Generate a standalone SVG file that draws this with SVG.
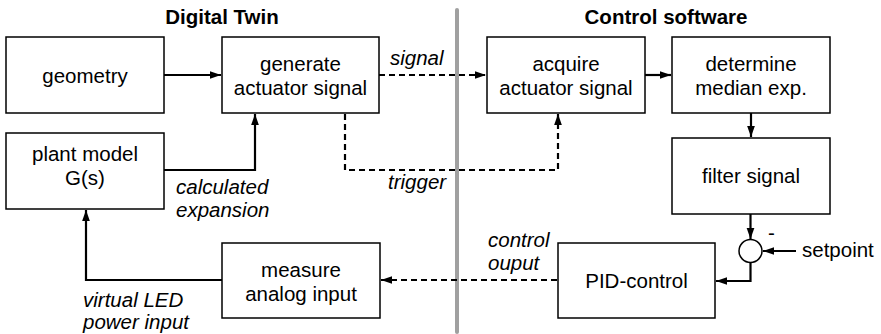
<svg xmlns="http://www.w3.org/2000/svg" width="881" height="334" viewBox="0 0 881 334">
  <defs>
    <marker id="arrow" viewBox="0 0 10 10" refX="10" refY="5" markerWidth="5" markerHeight="5" markerUnits="strokeWidth" orient="auto">
      <path d="M0,1.5 L10,5 L0,8.5 z" fill="#000"/>
    </marker>
  </defs>
  <style>
    .box { fill: #fff; stroke: #000; stroke-width: 1.5; }
    .lbl { font-family: "Liberation Sans", Arial, sans-serif; font-size: 20.5px; fill: #000; text-anchor: middle; }
    .it { font-family: "Liberation Sans", Arial, sans-serif; font-size: 20.5px; font-style: italic; fill: #000; }
    .title { font-family: "Liberation Sans", Arial, sans-serif; font-size: 20.5px; font-weight: bold; fill: #000; text-anchor: middle; }
    .solid { fill: none; stroke: #000; stroke-width: 2.2; marker-end: url(#arrow); }
    .dash { fill: none; stroke: #000; stroke-width: 2.2; stroke-dasharray: 6 4; marker-end: url(#arrow); }
  </style>
  <rect width="881" height="334" fill="#fff"/>

  <!-- separator between the two domains -->
  <line x1="457" y1="10" x2="457" y2="332" stroke="#a0a0a0" stroke-width="4" stroke-linecap="round"/>

  <text class="title" x="222" y="24">Digital Twin</text>
  <text class="title" x="666" y="24">Control software</text>

  <g id="connectors">
    <path class="solid" d="M164,75 L221,75"/>
    <path class="solid" d="M164,170 L255,170 L255,114"/>
    <path class="solid" d="M222,280 L86,280 L86,210"/>
    <path class="dash" d="M379,75 L486,75"/>
    <path class="dash" d="M345,114 L345,170 L558,170 L558,114"/>
    <path class="dash" d="M557,280 L381,280"/>
    <path class="solid" d="M645,75 L671,75"/>
    <path class="solid" d="M751,113 L751,137"/>
    <path class="solid" d="M750.5,214 L750.5,239"/>
    <path class="solid" d="M796,251 L763,251"/>
    <path class="solid" d="M750.5,263 L750.5,281 L716,281"/>
  </g>

  <g id="geometry">
    <rect class="box" x="6" y="37" width="158" height="76"/>
    <text class="lbl" x="85" y="82.5">geometry</text>
  </g>
  <g id="generate">
    <rect class="box" x="222" y="37" width="157" height="76"/>
    <text class="lbl" x="300.5" y="70.5">generate</text>
    <text class="lbl" x="300.5" y="94.5">actuator signal</text>
  </g>
  <g id="plant">
    <rect class="box" x="6" y="133" width="158" height="76"/>
    <text class="lbl" x="85" y="161">plant model</text>
    <text class="lbl" x="85" y="185">G(s)</text>
  </g>
  <g id="measure">
    <rect class="box" x="222" y="243" width="158" height="75"/>
    <text class="lbl" x="301" y="276.5">measure</text>
    <text class="lbl" x="301" y="300.5">analog input</text>
  </g>
  <g id="acquire">
    <rect class="box" x="487" y="37" width="158" height="76"/>
    <text class="lbl" x="566" y="70.5">acquire</text>
    <text class="lbl" x="566" y="94.5">actuator signal</text>
  </g>
  <g id="determine">
    <rect class="box" x="672" y="37" width="158" height="76"/>
    <text class="lbl" x="751" y="70.5">determine</text>
    <text class="lbl" x="751" y="94.5">median exp.</text>
  </g>
  <g id="filter">
    <rect class="box" x="672" y="138" width="158" height="76"/>
    <text class="lbl" x="751" y="183">filter signal</text>
  </g>
  <g id="pid">
    <rect class="box" x="558" y="243" width="157" height="75"/>
    <text class="lbl" x="636.5" y="287.5">PID-control</text>
  </g>
  <g id="sum">
    <circle cx="750.5" cy="251" r="11.5" fill="#fff" stroke="#000" stroke-width="1.5"/>
    <text class="it" x="768" y="240" style="font-style:normal">-</text>
  </g>

  <g id="labels">
    <text class="it" x="390" y="65">signal</text>
    <text class="it" x="388" y="189">trigger</text>
    <text class="it" x="176" y="194">calculated</text>
    <text class="it" x="176" y="217">expansion</text>
    <text class="it" x="488" y="247">control</text>
    <text class="it" x="488" y="270">ouput</text>
    <text class="it" x="83" y="307">virtual LED</text>
    <text class="it" x="83" y="329">power input</text>
    <text class="lbl" x="802" y="257" style="text-anchor:start">setpoint</text>
  </g>
</svg>
